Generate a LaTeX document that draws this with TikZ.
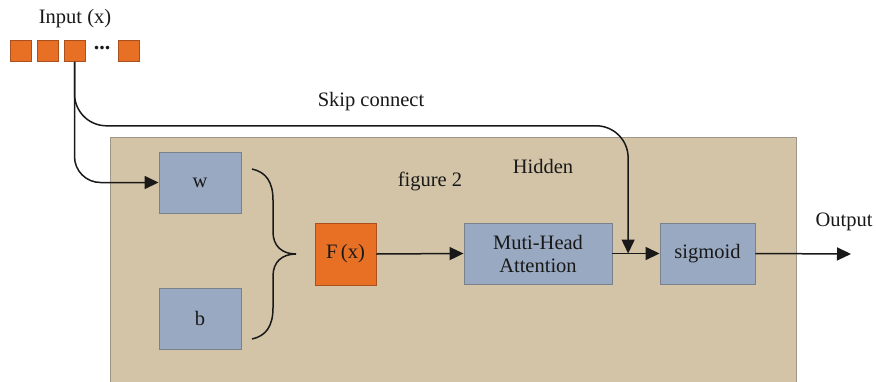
\documentclass[tikz,border=0pt]{standalone}
\usepackage{fontspec}
\setmainfont{Liberation Serif}
\usetikzlibrary{arrows.meta,calc}
\definecolor{hidbg}{RGB}{211,196,167}
\definecolor{hidedge}{RGB}{160,150,135}
\definecolor{unitblue}{RGB}{152,169,193}
\definecolor{unitedge}{RGB}{120,130,140}
\definecolor{fxorange}{RGB}{232,112,36}
\definecolor{fxedge}{RGB}{170,80,30}
\definecolor{ink}{RGB}{25,25,25}
\tikzset{
  txt/.style={font=\fontsize{20.5}{23}\selectfont, text=ink},
  unit/.style={draw=unitedge, fill=unitblue, line width=0.9pt, inner sep=0pt, txt, align=center},
  fxbox/.style={draw=fxedge, fill=fxorange, line width=0.9pt, inner sep=0pt, txt},
  cell/.style={draw=fxedge, fill=fxorange, line width=0.6pt, minimum width=21pt, minimum height=21pt, inner sep=0pt},
  link/.style={draw=ink, line width=1.5pt},
  arr/.style={link, -{Triangle[length=14pt,width=13pt]}}
}
\begin{document}
\begin{tikzpicture}[x=1pt,y=-1pt]
  \useasboundingbox (0,0) rectangle (876,381);
  \fill[white] (0,0) rectangle (876,381);

  % hidden layer panel
  \fill[hidbg] (110,137) rectangle (796,385);
  \draw[hidedge, line width=1pt] (110,385) -- (110,137) -- (796,137) -- (796,385);

  % input vector
  \node[txt] (inlabel) at (75,19) {Input (x)};
  \node[cell] (x1) at (20.5,51) {};
  \node[cell] (x2) at (47.5,51) {};
  \node[cell] (x3) at (74.5,51) {};
  \node[txt, font=\bfseries\fontsize{22}{24}\selectfont, inner sep=0pt] (xdots) at (102,48) {...};
  \node[cell] (x4) at (128.5,51) {};

  % blocks
  \node[unit, minimum width=82pt, minimum height=61pt] (w) at (200,182.5) {w};
  \node[unit, minimum width=82pt, minimum height=61pt] (b) at (200,318.5) {b};
  \node[fxbox, minimum width=61pt, minimum height=62pt] (fx) at (345.5,254) {F\,(x)};
  \node[unit, minimum width=148pt, minimum height=61pt] (mha) at (538,253.5) {Muti-Head\\[0pt]Attention};
  \node[unit, minimum width=95pt, minimum height=61pt] (sig) at (707.5,253.5) {sigmoid};

  % labels
  \node[txt] (skiplabel) at (371,102) {Skip connect};
  \node[txt] (hidlabel) at (543,166) {Hidden};
  \node[txt] (figlabel) at (430,181) {figure 2};
  \node[txt] (outlabel) at (844,222) {Output};

  % brace joining w and b
  \coordinate (btip) at (296,254);
  \draw[link] (252,169) .. controls (266,172) and (273,182) .. (273,200)
    -- (273,232) .. controls (273,246) and (282,254) .. (btip)
    .. controls (282,254) and (273,262) .. (273,276)
    -- (273,308) .. controls (273,326) and (266,336) .. (252,339);

  % connectors
  \coordinate (join) at ($(mha.east)!0.333!(sig.west)$);
  \coordinate (out) at (851,254);
  \draw[arr, rounded corners=26pt] (x3.south) |- (w.west);
  \draw[arr, rounded corners=32pt] (x3.south) -- ($(x3.south)+(0,64)$) -| (join);
  \draw[arr] (fx.east) -- (mha.west);
  \draw[arr] (mha.east) -- (sig.west);
  \draw[arr] (sig.east) -- (out);
\end{tikzpicture}
\end{document}
